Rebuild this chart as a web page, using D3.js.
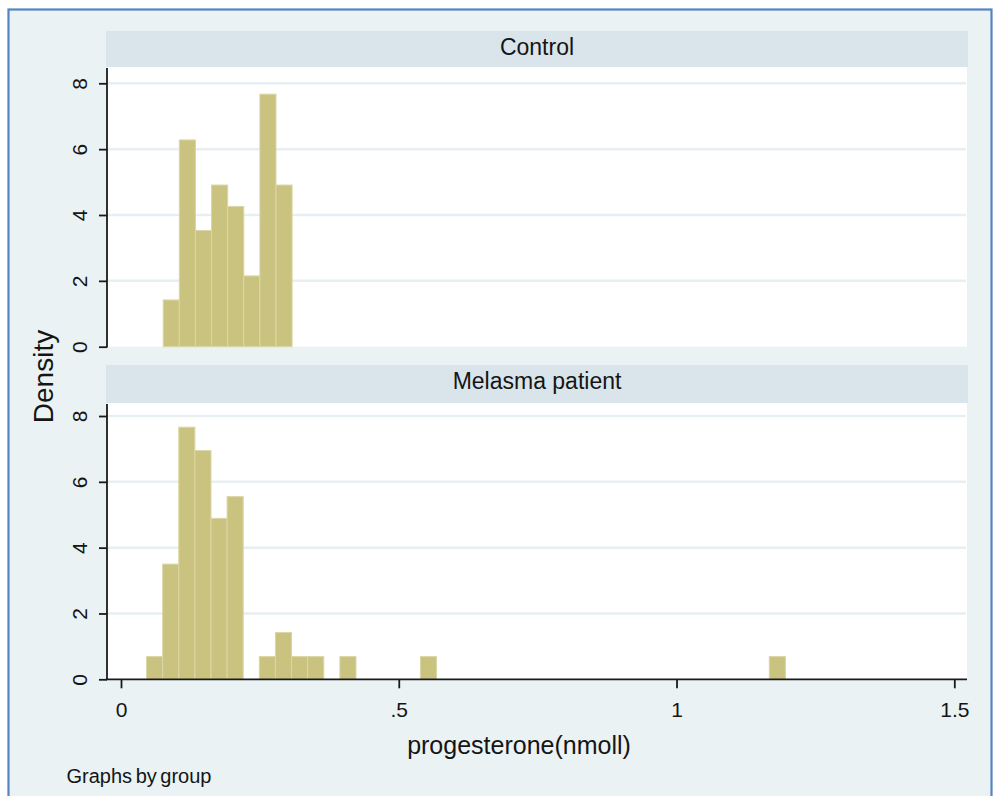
<!DOCTYPE html>
<html>
<head>
<meta charset="utf-8">
<script src="https://cdn.jsdelivr.net/npm/d3@7/dist/d3.min.js"></script>
<style>
  html, body { margin: 0; padding: 0; background: #ffffff; }
  svg { display: block; }
  text { font-family: "Liberation Sans", Arial, sans-serif; fill: #151515; }
</style>
</head>
<body>
<svg id="chart" width="997" height="796"></svg>
<script>
// ---- data ----
const groups = ["Control", "Melasma patient"];
const binWidth = 0.029;
// Control: bin left edges and densities
const controlLeft = [0.076, 0.105, 0.134, 0.163, 0.192, 0.221, 0.250, 0.279];
const controlDensity = [1.42, 6.28, 3.53, 4.91, 4.26, 2.15, 7.67, 4.91];
// Melasma patient: bin left edges and densities
const melasmaLeft = [0.046, 0.075, 0.104, 0.133, 0.162, 0.191, 0.249, 0.278, 0.307, 0.336, 0.394, 0.539, 1.167];
const melasmaDensity = [0.69, 3.50, 7.66, 6.95, 4.89, 5.55, 0.69, 1.42, 0.69, 0.69, 0.69, 0.69, 0.69];
const yTicks = [0, 2, 4, 6, 8];
const xTicks = [0, 0.5, 1, 1.5];
const xTickLabels = ["0", ".5", "1", "1.5"];
const yTitle = "Density";
const xTitle = "progesterone(nmoll)";
const note = "Graphs by group";

const svg = d3.select("#chart");

// outer frame
svg.append("rect").attr("x", 8.5).attr("y", 9.5).attr("width", 983).attr("height", 790)
  .attr("fill", "#eaf2f3").attr("stroke", "#5584c4").attr("stroke-width", 2.2);

const x = d3.scaleLinear().domain([0, 1.5]).range([121, 954.3]);

const panels = [
  { name: groups[0], left: controlLeft, dens: controlDensity, stripTop: 31, plotTop: 67, y0: 346.7, y8: 83.3, xaxis: false },
  { name: groups[1], left: melasmaLeft, dens: melasmaDensity, stripTop: 365, plotTop: 403, y0: 679.3, y8: 416, xaxis: true }
];

const plotL = 107, plotR = 967;

panels.forEach(p => {
  const y = d3.scaleLinear().domain([0, 8]).range([p.y0, p.y8]);
  // strip
  svg.append("rect").attr("x", 106).attr("y", p.stripTop).attr("width", 862).attr("height", p.plotTop - p.stripTop)
    .attr("fill", "#d9e5eb");
  svg.append("text").attr("x", 537).attr("y", p.stripTop + 24).attr("text-anchor", "middle")
    .attr("font-size", 23).text(p.name);
  // plot area
  svg.append("rect").attr("x", plotL).attr("y", p.plotTop).attr("width", plotR - plotL).attr("height", p.y0 - p.plotTop)
    .attr("fill", "#ffffff");
  // grid
  svg.append("g").selectAll("line").data(yTicks.filter(d => d > 0)).join("line")
    .attr("x1", plotL + 1).attr("x2", 966).attr("y1", d => y(d)).attr("y2", d => y(d))
    .attr("stroke", "#e7eff2").attr("stroke-width", 2.5);
  // bars
  const bars = p.left.map((l, i) => ({ l, d: p.dens[i] }));
  svg.append("g").selectAll("rect").data(bars).join("rect")
    .attr("x", d => x(d.l)).attr("width", d => x(d.l + binWidth) - x(d.l))
    .attr("y", d => y(d.d)).attr("height", d => y(0) - y(d.d))
    .attr("fill", "#c9c37f").attr("stroke", "#dbd6a6").attr("stroke-width", 1);
  // y axis
  const ya = svg.append("g").attr("transform", `translate(${plotL},0)`)
    .call(d3.axisLeft(y).tickValues(yTicks).tickSize(8).tickFormat(d3.format("d")));
  ya.select(".domain").remove();
  ya.selectAll(".tick line").attr("stroke", "#1a1a1a").attr("stroke-width", 1.8);
  ya.selectAll(".tick text").attr("transform", "rotate(-90)").attr("x", 0).attr("y", -20.5).attr("dy", 0)
    .attr("text-anchor", "middle").attr("font-size", 21).attr("fill", "#151515")
    .style("font-family", "'Liberation Sans', Arial, sans-serif");
  svg.append("line").attr("x1", plotL).attr("x2", plotL).attr("y1", p.plotTop + 1).attr("y2", p.y0 + 0.8)
    .attr("stroke", "#1a1a1a").attr("stroke-width", 1.8);

  if (p.xaxis) {
    const xa = svg.append("g").attr("transform", `translate(0,${p.y0})`)
      .call(d3.axisBottom(x).tickValues(xTicks).tickSize(9).tickFormat((d, i) => xTickLabels[i]));
    xa.select(".domain").remove();
    xa.selectAll(".tick line").attr("stroke", "#1a1a1a").attr("stroke-width", 1.8);
    xa.selectAll(".tick text").attr("y", 37.4).attr("dy", 0).attr("font-size", 21).attr("fill", "#151515")
      .style("font-family", "'Liberation Sans', Arial, sans-serif");
    svg.append("line").attr("x1", plotL - 1).attr("x2", plotR).attr("y1", p.y0).attr("y2", p.y0)
      .attr("stroke", "#1a1a1a").attr("stroke-width", 1.8);
  }
});

// titles
svg.append("text").attr("transform", "translate(53.3,376.5) rotate(-90)").attr("text-anchor", "middle")
  .attr("font-size", 28).text(yTitle);
svg.append("text").attr("x", 519).attr("y", 754.3).attr("text-anchor", "middle")
  .attr("font-size", 25).text(xTitle);
svg.append("text").attr("x", 66.5).attr("y", 783).attr("font-size", 20)
  .style("word-spacing", "-2px").text(note);
</script>
</body>
</html>
